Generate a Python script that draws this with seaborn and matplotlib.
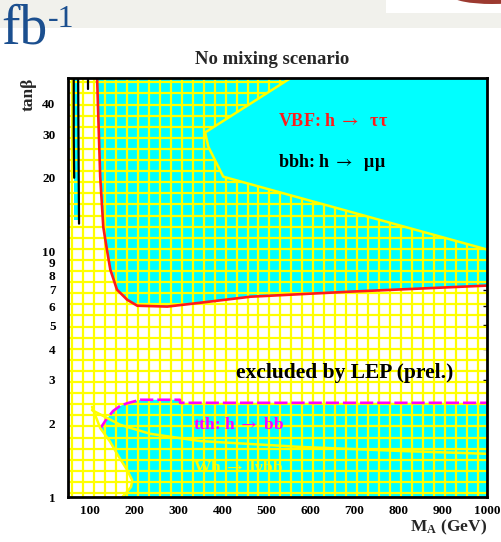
import matplotlib
matplotlib.use("Agg")
import matplotlib.pyplot as plt
import matplotlib.patches as mpatches
import seaborn as sns

# ---- discovery / exclusion contours in the (M_A, tan beta) plane ----
# VBF: h -> tau tau reach (red contour), read from high tan beta downwards
vbf_ma = [116, 123, 130, 139, 146, 161, 184, 207, 275, 350, 464, 691, 1000]
vbf_tb = [51, 20.2, 12.6, 10.0, 8.44, 7.0, 6.37, 6.02, 5.97, 6.19, 6.55, 6.87, 7.27]

# bbh: h -> mu mu reach (yellow contour bounding the plain region)
mumu_ma = [555, 361, 368, 402, 1000]
mumu_tb = [51, 30.6, 26.8, 20.2, 10.2]

# tth: h -> bb reach (magenta dashed contour)
tth_ma = [123, 136, 152, 168, 184, 214, 304, 304, 1000]
tth_tb = [1.90, 2.06, 2.24, 2.35, 2.41, 2.49, 2.49, 2.42, 2.42]

# lower yellow contour crossing the tth region
tthlow_ma = [104.5, 168, 236, 350, 577, 805, 1000]
tthlow_tb = [2.26, 1.97, 1.81, 1.69, 1.60, 1.54, 1.50]

# Wh -> l nu bb reach (yellow contour)
wh_ma = [104.5, 123, 145.5, 164, 184, 195.5, 193, 184, 173]
wh_tb = [2.33, 1.91, 1.68, 1.47, 1.29, 1.17, 1.10, 1.05, 1.0]

# narrow band at very low M_A
strip_ma = [64, 72]
strip_tb = [13.5, 51]
edge1_ma = [63, 63, 64]
edge1_tb = [51, 30, 20]
edge2_ma = [73, 74, 75]
edge2_tb = [51, 25, 13]
edge3_ma = [95, 95]
edge3_tb = [51, 46]

x_ticks = [100, 200, 300, 400, 500, 600, 700, 800, 900, 1000]
y_ticks = [1, 2, 3, 4, 5, 6, 7, 8, 9, 10, 20, 30, 40]

sns.set_style("white")
plt.rcParams["font.family"] = ["Liberation Serif", "DejaVu Serif"]
plt.rcParams["mathtext.fontset"] = "stix"

CYAN = "#00ffff"
YELLOW = "#ffff00"
RED = "#ff1a1a"
MAGENTA = "#ff00ff"

W, H = 501, 542
fig = plt.figure(figsize=(W / 100, H / 100), dpi=100)
fig.patch.set_facecolor("white")

# slide header strip
fig.patches.append(mpatches.Rectangle((0, 1 - 28 / H), 1, 28 / H, transform=fig.transFigure,
                                      facecolor="#f1f1ec", edgecolor="none", zorder=0))
fig.patches.append(mpatches.Rectangle((386 / W, 1 - 13 / H), 115 / W, 13 / H, transform=fig.transFigure,
                                      facecolor="white", edgecolor="none", zorder=0))
fig.patches.append(mpatches.Ellipse((492 / W, 1 + 4 / H), 80 / W, 16 / H, transform=fig.transFigure,
                                    facecolor="#9c3a30", edgecolor="none", zorder=0))
fig.text(1 / W, 1 - 43 / H, "fb", fontsize=40, color="#1b4f8f", ha="left", va="baseline")
fig.text(48 / W, 1 - 27 / H, "-1", fontsize=23, color="#1b4f8f", ha="left", va="baseline")

ax = fig.add_axes([68 / W, 1 - 497 / H, 419 / W, 419 / H])
ax.set_yscale("log")
ax.set_xlim(50, 1000)
ax.set_ylim(1, 51)
ax.set_facecolor("white")

x0, x1 = ax.get_xlim()
y0, y1 = ax.get_ylim()

# regions covered by the searches
upper = list(zip(vbf_ma, vbf_tb)) + [(x1, y1)]
ax.add_patch(mpatches.Polygon(upper, closed=True, facecolor=CYAN, edgecolor="none", zorder=1))
lower = list(zip(tth_ma, tth_tb)) + [(x1, y0)] + list(zip(wh_ma[::-1], wh_tb[::-1]))[:-1]
ax.add_patch(mpatches.Polygon(lower, closed=True, facecolor=CYAN, edgecolor="none", zorder=1))
ax.fill_betweenx(strip_tb, strip_ma[0], strip_ma[1], color=CYAN, lw=0, zorder=1)

# LEP exclusion hatch
for k in range(38):
    f = (4 + 10.97 * k) / 419
    ax.plot([f, f], [0, 1], transform=ax.transAxes, color=YELLOW, lw=1.6, zorder=2)
for k in range(38):
    f = (4 + 11.1 * k) / 419
    ax.plot([0, 1], [f, f], transform=ax.transAxes, color=YELLOW, lw=1.6, zorder=2)

# plain region beyond the mu mu contour
plain = list(zip(mumu_ma, mumu_tb)) + [(x1, y1)]
ax.add_patch(mpatches.Polygon(plain, closed=True, facecolor=CYAN, edgecolor="none", zorder=3))

# contours
sns.lineplot(x=mumu_ma, y=mumu_tb, sort=False, estimator=None, color=YELLOW, lw=1.8, ax=ax, zorder=4)
sns.lineplot(x=vbf_ma, y=vbf_tb, sort=False, estimator=None, color=RED, lw=1.9, ax=ax, zorder=4)
sns.lineplot(x=tth_ma, y=tth_tb, sort=False, estimator=None, color=MAGENTA, lw=1.9, ax=ax, zorder=4,
             linestyle=(0, (5, 1.5)))
sns.lineplot(x=tthlow_ma, y=tthlow_tb, sort=False, estimator=None, color=YELLOW, lw=1.8, ax=ax, zorder=4)
sns.lineplot(x=wh_ma, y=wh_tb, sort=False, estimator=None, color=YELLOW, lw=1.8, ax=ax, zorder=4)
for ex, ey in [(edge1_ma, edge1_tb), (edge2_ma, edge2_tb), (edge3_ma, edge3_tb)]:
    sns.lineplot(x=ex, y=ey, sort=False, estimator=None, color="black", lw=1.6, ax=ax, zorder=4)

# labels inside the plane
ax.text(525, 33.9, r"VBF: h $\rightarrow$  ττ", color=RED, fontsize=13, fontweight="bold",
        va="center", ha="left", zorder=5)
ax.text(525, 23.1, r"bbh: h $\rightarrow$  μμ", color="black", fontsize=13, fontweight="bold",
        va="center", ha="left", zorder=5)
ax.text(432, 3.21, "excluded by LEP (prel.)", color="black", fontsize=15.5, fontweight="bold",
        va="center", ha="left", zorder=5)
ax.text(333, 1.97, r"tth: h $\rightarrow$ bb", color=MAGENTA, fontsize=12.5, fontweight="bold",
        va="center", ha="left", zorder=5)
ax.text(333, 1.31, r"Wh $\rightarrow$ lνbb", color=YELLOW, fontsize=12.5, fontweight="bold",
        va="center", ha="left", zorder=5)

# axes
ax.set_xticks(x_ticks)
ax.set_xticklabels([str(v) for v in x_ticks])
ax.set_yticks(y_ticks)
ax.set_yticklabels([str(v) for v in y_ticks])
ax.yaxis.set_minor_locator(matplotlib.ticker.NullLocator())
ax.tick_params(axis="both", direction="in", length=3, width=1, colors="black",
               labelsize=9.5, right=True, top=False)
ax.tick_params(axis="x", pad=6)
ax.tick_params(axis="y", pad=9)
for lab in ax.get_xticklabels() + ax.get_yticklabels():
    lab.set_fontweight("bold")
for sp in ax.spines.values():
    sp.set_visible(True)
    sp.set_color("black")
    sp.set_linewidth(2)
    sp.set_zorder(6)

ax.set_title("No mixing scenario", fontsize=13.5, fontweight="bold", pad=10, x=0.486)
ax.set_xlabel(r"M$_\mathregular{A}$ (GeV)", fontsize=12.5, fontweight="bold", ha="right")
ax.xaxis.set_label_coords(1.0, -0.05)
ax.set_ylabel(r"tanβ", fontsize=12.5, fontweight="bold", ha="right")
ax.yaxis.set_label_coords(-0.075, 1.0)

fig.savefig("out.png", dpi=100)
